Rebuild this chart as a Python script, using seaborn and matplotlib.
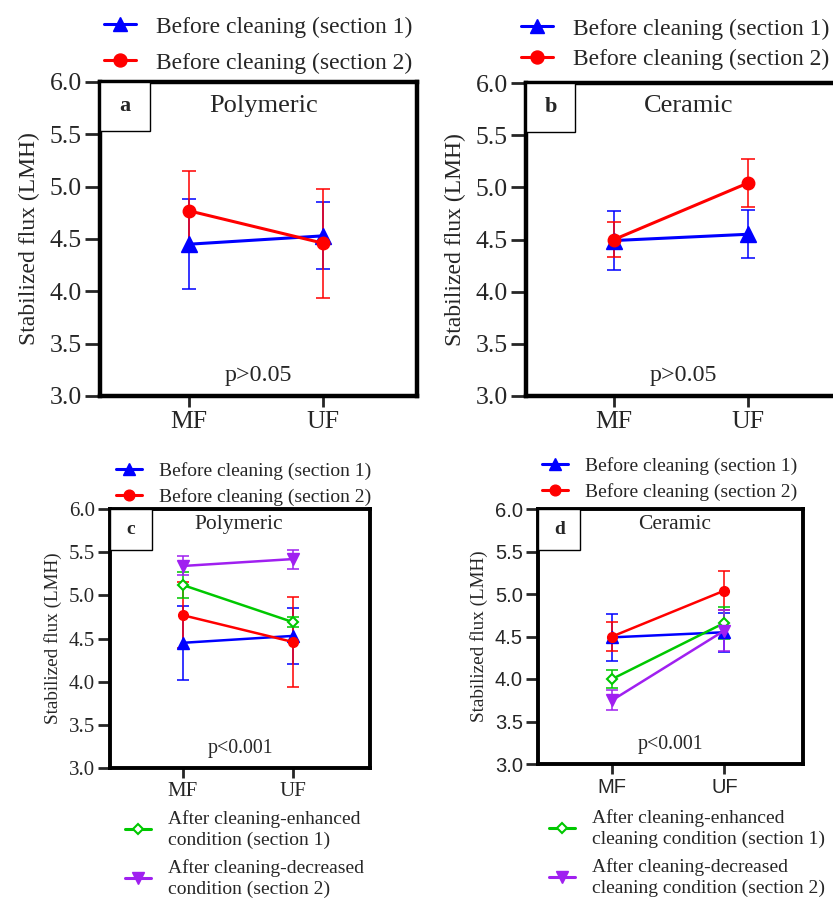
import numpy as np
import matplotlib
matplotlib.use("Agg")
import matplotlib.pyplot as plt
from matplotlib.patches import Rectangle
import seaborn as sns

# membranes on the x axis
cats = ["MF", "UF"]

# polymeric membrane, stabilized flux (LMH), mean and sd
poly_before_s1 = [4.45, 4.53]
poly_before_s1_sd = [0.43, 0.32]
poly_before_s2 = [4.77, 4.46]
poly_before_s2_sd = [0.38, 0.52]
poly_after_enh = [5.12, 4.69]
poly_after_enh_sd = [0.15, 0.06]
poly_after_dec = [5.34, 5.42]
poly_after_dec_sd = [0.11, 0.11]

# ceramic membrane
cer_before_s1 = [4.49, 4.55]
cer_before_s1_sd = [0.28, 0.23]
cer_before_s2 = [4.50, 5.04]
cer_before_s2_sd = [0.17, 0.23]
cer_after_enh = [4.00, 4.66]
cer_after_enh_sd = [0.11, 0.19]
cer_after_dec = [3.75, 4.57]
cer_after_dec_sd = [0.12, 0.24]

yticks = [3.0, 3.5, 4.0, 4.5, 5.0, 5.5, 6.0]

BLUE = "#0000FF"
RED = "#FF0000"
GREEN = "#00C800"
PURPLE = "#A020F0"

sns.set_style("ticks")
plt.rcParams["font.family"] = ["Liberation Serif", "DejaVu Serif"]

W, H = 833, 900
fig = plt.figure(figsize=(W / 100, H / 100), dpi=100)


def add_ax(left, top, right, bottom):
    return fig.add_axes([left / W, 1 - bottom / H, (right - left) / W, (bottom - top) / H])


def draw_series(ax, vals, sds, color, marker, ms, lw, hollow=False, big=True):
    kw = dict(markeredgecolor=color, markeredgewidth=1.5 if hollow else 1)
    if hollow:
        kw["markerfacecolor"] = "white"
    sns.pointplot(x=cats, y=vals, ax=ax, color=color, marker=marker,
                  markersize=ms, linewidth=lw, errorbar=None, zorder=4, **kw)
    ax.errorbar(np.arange(len(cats)), vals, yerr=sds, fmt="none", ecolor=color,
                elinewidth=1.3, capsize=5 if big else 4, capthick=1.3, alpha=0.85, zorder=3)


def style_panel(ax, letter, title, ptext, big, sans_ticks=False, title_x=0.515):
    spw = 3.2 if big else 2.8
    tfs = 18.5 if big else 15
    ax.set_ylim(3.0, 6.0)
    ax.set_xlim(-0.66, 1.70)
    ax.set_yticks(yticks)
    ax.set_yticklabels([f"{v:.1f}" for v in yticks])
    for s in ax.spines.values():
        s.set_linewidth(spw)
        s.set_color("black")
        s.set_visible(True)
    ax.tick_params(axis="y", direction="out", length=11 if big else 9, width=2,
                   pad=2, labelsize=tfs)
    ax.tick_params(axis="x", direction="out", length=8 if big else 7, width=2,
                   pad=3, labelsize=tfs)
    if sans_ticks:
        for lab in ax.get_xticklabels() + ax.get_yticklabels():
            lab.set_fontfamily(["Liberation Sans", "DejaVu Sans"])
            lab.set_fontsize(14.5)
    ax.set_xlabel("")
    ax.set_ylabel("Stabilized flux (LMH)", fontsize=17 if big else 13.8,
                  labelpad=7 if big else 5)
    bw, bh = (0.157, 0.156) if big else (0.16, 0.16)
    ax.add_patch(Rectangle((0, 1 - bh), bw, bh, transform=ax.transAxes,
                           facecolor="white", edgecolor="black", lw=1, zorder=6,
                           clip_on=False))
    ax.text(bw / 2, 1 - bh / 2, letter, transform=ax.transAxes, ha="center",
            va="center", fontsize=16 if big else 14, fontweight="bold", zorder=7)
    ax.text(title_x, 0.925 if big else 0.94, title, transform=ax.transAxes,
            ha="center", va="center", fontsize=19 if big else 15.5)
    ax.text(0.50, 0.065 if big else 0.075, ptext, transform=ax.transAxes,
            ha="center", va="center", fontsize=17.3 if big else 14.3)


def top_legend(anchor, fs, spacing):
    handles = [plt.Line2D([], [], color=BLUE, marker="^", ms=fs * 0.62, lw=2.2),
               plt.Line2D([], [], color=RED, marker="o", ms=fs * 0.55, lw=2.2)]
    fig.legend(handles, ["Before cleaning (section 1)", "Before cleaning (section 2)"],
               loc="upper left", bbox_to_anchor=(anchor[0] / W, 1 - anchor[1] / H),
               frameon=False, fontsize=fs, handlelength=1.35, handletextpad=0.85,
               labelspacing=spacing, borderpad=0, borderaxespad=0)


def bottom_legend(anchor, labels, fs):
    handles = [plt.Line2D([], [], color=GREEN, marker="D", ms=5.5, lw=2.2,
                          markerfacecolor="white", markeredgewidth=1.5),
               plt.Line2D([], [], color=PURPLE, marker="v", ms=8, lw=2.2)]
    leg = fig.legend(handles, labels, loc="upper left",
                     bbox_to_anchor=(anchor[0] / W, 1 - anchor[1] / H),
                     frameon=False, fontsize=fs, handlelength=1.35, handletextpad=0.85,
                     labelspacing=0.5, borderpad=0, borderaxespad=0)
    for t in leg.get_texts():
        t.set_linespacing(1.3)


# panel a
ax_a = add_ax(100, 82, 417, 396)
draw_series(ax_a, poly_before_s1, poly_before_s1_sd, BLUE, "^", 11.5, 2.2)
draw_series(ax_a, poly_before_s2, poly_before_s2_sd, RED, "o", 9, 2.2)
style_panel(ax_a, "a", "Polymeric", "p>0.05", True)
top_legend((104, 16), 17, 0.62)

# panel b
ax_b = add_ax(526, 83, 841, 396)
draw_series(ax_b, cer_before_s1, cer_before_s1_sd, BLUE, "^", 11.5, 2.2)
draw_series(ax_b, cer_before_s2, cer_before_s2_sd, RED, "o", 9, 2.2)
style_panel(ax_b, "b", "Ceramic", "p>0.05", True)
top_legend((521, 18), 17, 0.4)

# panel c
ax_c = add_ax(110, 509, 370, 768)
draw_series(ax_c, poly_before_s1, poly_before_s1_sd, BLUE, "^", 8, 1.8, big=False)
draw_series(ax_c, poly_before_s2, poly_before_s2_sd, RED, "o", 7, 1.8, big=False)
draw_series(ax_c, poly_after_enh, poly_after_enh_sd, GREEN, "D", 5.5, 1.8, hollow=True, big=False)
draw_series(ax_c, poly_after_dec, poly_after_dec_sd, PURPLE, "v", 8, 1.8, big=False)
style_panel(ax_c, "c", "Polymeric", "p<0.001", False, title_x=0.495)
top_legend((116, 462), 14, 0.43)
bottom_legend((125, 810),
              ["After cleaning-enhanced\ncondition (section 1)",
               "After cleaning-decreased\ncondition (section 2)"], 14)

# panel d
ax_d = add_ax(538, 509, 803, 764)
draw_series(ax_d, cer_before_s1, cer_before_s1_sd, BLUE, "^", 8, 1.8, big=False)
draw_series(ax_d, cer_before_s2, cer_before_s2_sd, RED, "o", 7, 1.8, big=False)
draw_series(ax_d, cer_after_enh, cer_after_enh_sd, GREEN, "D", 5.5, 1.8, hollow=True, big=False)
draw_series(ax_d, cer_after_dec, cer_after_dec_sd, PURPLE, "v", 8, 1.8, big=False)
style_panel(ax_d, "d", "Ceramic", "p<0.001", False, sans_ticks=True)
top_legend((542, 457), 14, 0.43)
bottom_legend((549, 809),
              ["After cleaning-enhanced\ncleaning condition (section 1)",
               "After cleaning-decreased\ncleaning condition (section 2)"], 14)

fig.savefig("out.png", dpi=100)
